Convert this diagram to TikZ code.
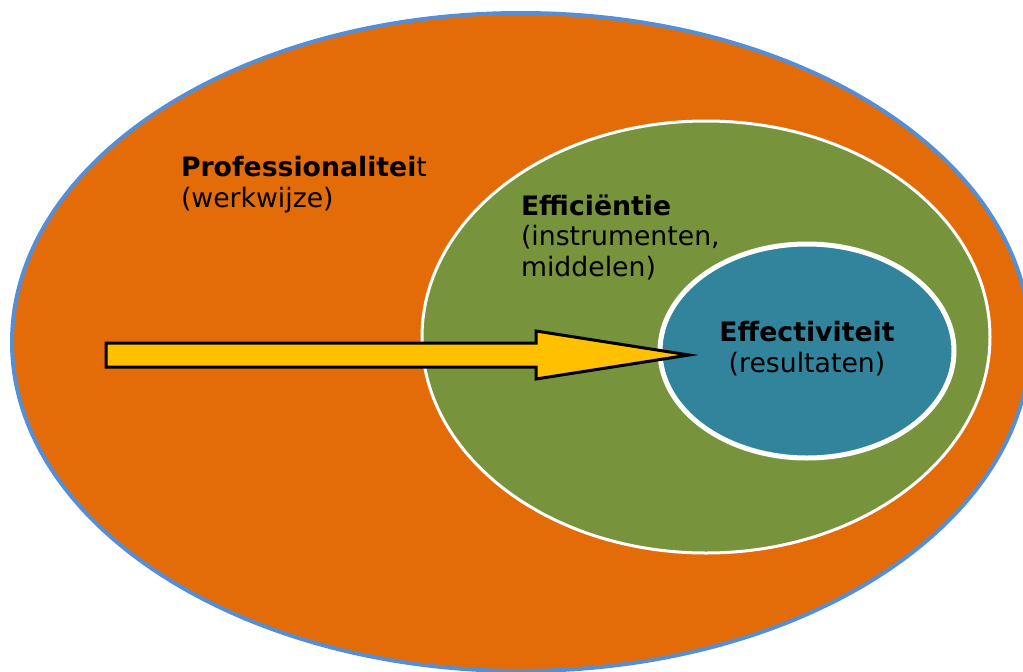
\documentclass[tikz,border=0pt]{standalone}
\usepackage{fontspec}
\setmainfont{DejaVu Sans}
\usetikzlibrary{shapes.geometric}
\definecolor{outerfill}{HTML}{E36C09}
\definecolor{outerline}{HTML}{558ED5}
\definecolor{midfill}{HTML}{77933C}
\definecolor{innerfill}{HTML}{31849B}
\definecolor{arrowfill}{HTML}{FFC000}
\tikzset{
  ring/.style={ellipse, inner sep=0pt, outer sep=0pt},
  label/.style={inner sep=0pt, outer sep=0pt, text=black,
    font=\fontsize{26.7}{30.5}\selectfont},
}
\begin{document}
\begin{tikzpicture}[x=1pt, y=-1pt]
  \useasboundingbox (0,0) rectangle (1023,672);
  % nested ellipses
  \node[ring, fill=outerfill, draw=outerline, line width=4pt,
        minimum width=1018pt, minimum height=658pt] (prof) at (521,342) {};
  \node[ring, fill=midfill, draw=white, line width=3pt,
        minimum width=568pt, minimum height=432pt] (effi) at (706,337) {};
  \node[ring, fill=innerfill, draw=white, line width=5pt,
        minimum width=294pt, minimum height=214pt] (effe) at (807,351) {};
  % arrow towards the core
  \draw[fill=arrowfill, draw=black, line width=3pt, line join=miter]
    (106,343) -- (536,343) -- (536,331) -- (689,355) -- (536,379)
    -- (536,367) -- (106,367) -- cycle;
  % labels (anchored on the baseline of their last line)
  \node[label, anchor=base west, align=left] (tprof) at (181,207)
    {\textbf{Professionalitei}t\\(werkwijze)};
  \node[label, anchor=base west, align=left] (teffi) at (521,276)
    {\textbf{Efficiëntie}\\(instrumenten,\\middelen)};
  \node[label, anchor=base, align=center] (teffe) at (807,372)
    {\textbf{Effectiviteit}\\(resultaten)};
\end{tikzpicture}
\end{document}
